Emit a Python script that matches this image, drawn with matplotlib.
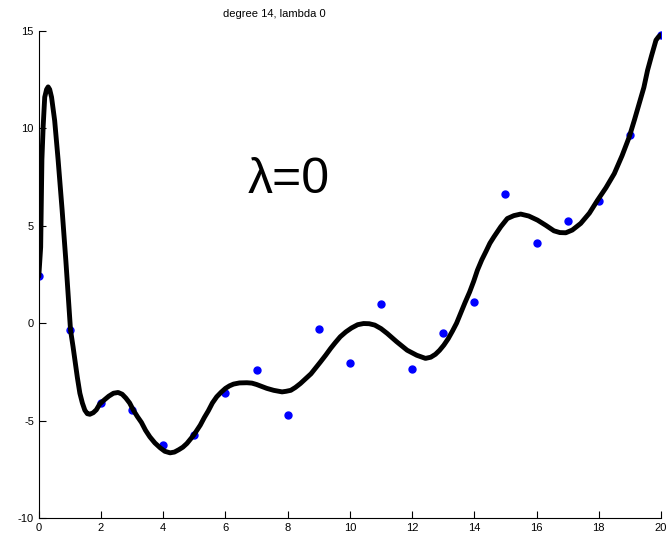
import matplotlib.pyplot as plt

plt.rcParams["axes.unicode_minus"] = False

# observed samples
x_pts = [0, 1, 2, 3, 4, 5, 6, 7, 8, 9, 10, 11, 12, 13, 14, 15, 16, 17, 18, 19, 20]
y_pts = [2.41, -0.36, -4.1, -4.47, -6.26, -5.75, -3.6, -2.41, -4.72, -0.31, -2.05,
         0.98, -2.36, -0.51, 1.1, 6.65, 4.1, 5.24, 6.28, 9.65, 14.8]

# fitted degree 14 curve
curve_x = [0.0, 0.06, 0.1, 0.14, 0.19, 0.25, 0.3, 0.35, 0.41, 0.51,
           0.62, 0.75, 0.87, 1.02, 1.1, 1.16, 1.24, 1.32, 1.4, 1.48,
           1.56, 1.64, 1.75, 1.85, 1.96, 2.1, 2.25, 2.4, 2.55, 2.68,
           2.8, 2.92, 3.04, 3.17, 3.3, 3.43, 3.57, 3.73, 3.9, 4.05,
           4.22, 4.36, 4.5, 4.63, 4.76, 4.98, 5.19, 5.32, 5.45, 5.58,
           5.72, 5.86, 6.0, 6.13, 6.26, 6.45, 6.69, 6.85, 7.0, 7.17,
           7.33, 7.55, 7.82, 7.95, 8.1, 8.25, 8.41, 8.58, 8.75, 8.9,
           9.05, 9.22, 9.38, 9.53, 9.69, 9.87, 10.05, 10.25, 10.44, 10.62,
           10.8, 11.0, 11.2, 11.5, 11.84, 12.15, 12.43, 12.6, 12.75, 12.88,
           13.02, 13.16, 13.3, 13.43, 13.56, 13.7, 13.85, 13.98, 14.1, 14.24,
           14.38, 14.5, 14.63, 14.85, 15.06, 15.27, 15.49, 15.75, 16.03, 16.3,
           16.56, 16.75, 16.94, 17.15, 17.42, 17.7, 17.96, 18.23, 18.5, 18.75,
           18.98, 19.15, 19.3, 19.45, 19.57, 19.7, 19.84, 19.92, 20.0]
curve_y = [2.4, 3.9, 8.4, 10.1, 11.6, 12.0, 12.13, 12.0, 11.6, 10.4,
           8.4, 5.8, 3.2, -0.36, -1.2, -1.9, -2.8, -3.6, -4.1, -4.47,
           -4.65, -4.68, -4.6, -4.45, -4.15, -3.95, -3.75, -3.6, -3.56, -3.65,
           -3.85, -4.1, -4.47, -4.8, -5.1, -5.5, -5.84, -6.15, -6.4, -6.58,
           -6.66, -6.62, -6.5, -6.37, -6.18, -5.75, -5.24, -4.85, -4.5, -4.1,
           -3.78, -3.55, -3.35, -3.22, -3.13, -3.07, -3.06, -3.08, -3.15, -3.25,
           -3.35, -3.45, -3.53, -3.5, -3.45, -3.3, -3.1, -2.85, -2.6, -2.3,
           -2.0, -1.65, -1.3, -1.0, -0.7, -0.45, -0.25, -0.08, -0.02, -0.03,
           -0.1, -0.28, -0.53, -0.95, -1.39, -1.65, -1.81, -1.75, -1.6, -1.4,
           -1.13, -0.8, -0.4, 0.0, 0.5, 1.05, 1.6, 2.15, 2.72, 3.25,
           3.7, 4.1, 4.43, 4.95, 5.37, 5.52, 5.6, 5.5, 5.29, 5.02,
           4.74, 4.65, 4.64, 4.78, 5.12, 5.65, 6.31, 6.95, 7.68, 8.6,
           9.56, 10.45, 11.28, 12.1, 12.99, 13.75, 14.53, 14.7, 14.8]

x_ticks = [0, 2, 4, 6, 8, 10, 12, 14, 16, 18, 20]
y_ticks = [-10, -5, 0, 5, 10, 15]

fig = plt.figure(figsize=(6.69, 5.44), dpi=100)
ax = fig.add_axes([0.058, 0.048, 0.930, 0.895])

ax.plot(x_pts, y_pts, "o", color="#0000ff", markersize=5, zorder=2)
ax.plot(curve_x, curve_y, "-", color="k", linewidth=3.5, zorder=3,
        solid_joinstyle="round", solid_capstyle="round")

ax.text(6.7, 6.7, "\u03bb=0", fontsize=36, family="Liberation Sans")

ax.set_xlim(0, 20)
ax.set_ylim(-10, 15)
ax.set_xticks(x_ticks)
ax.set_yticks(y_ticks)
ax.tick_params(direction="in", length=5, width=0.8, labelsize=8)
for lab in ax.get_xticklabels() + ax.get_yticklabels():
    lab.set_family("Liberation Sans")
ax.spines["top"].set_visible(False)
ax.spines["right"].set_visible(False)
for side in ("left", "bottom"):
    ax.spines[side].set_linewidth(0.8)

fig.text(0.41, 0.974, "degree 14, lambda 0", fontsize=8, ha="center", va="center",
         family="Liberation Sans")

fig.savefig("out.png", dpi=100)
